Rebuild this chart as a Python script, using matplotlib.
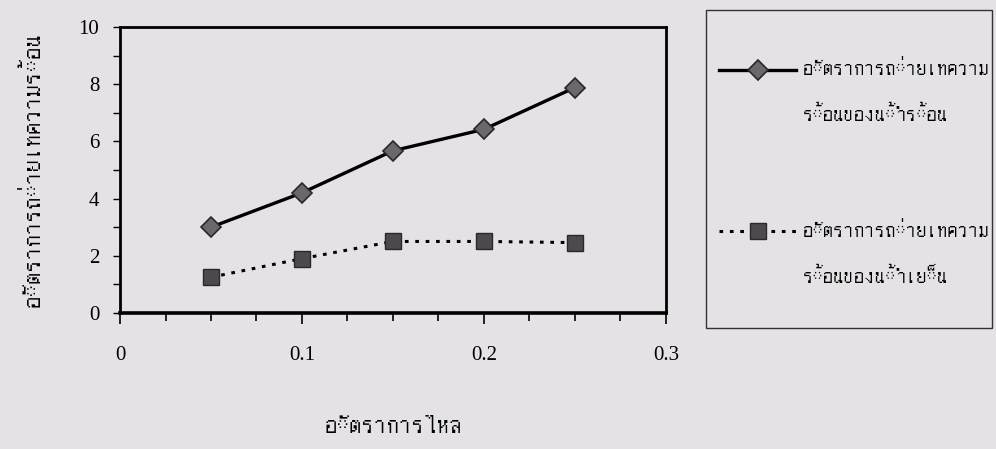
import matplotlib
matplotlib.use("Agg")
import matplotlib.pyplot as plt
from matplotlib import font_manager
from matplotlib.ft2font import FT2Font
from matplotlib.patches import Rectangle

flow_rate = [0.05, 0.10, 0.15, 0.20, 0.25]
hot_water = [3.0, 4.2, 5.67, 6.42, 7.88]
cold_water = [1.25, 1.9, 2.5, 2.5, 2.46]
hot_label = "อัตราการถ่ายเทความ\nร้อนของน้ำร้อน"
cold_label = "อัตราการถ่ายเทความ\nร้อนของน้ำเย็น"
x_title = "อัตราการไหล"
y_title = "อัตราการถ่ายเทความร้อน"
x_ticks = [0, 0.1, 0.2, 0.3]
y_ticks = [0, 2, 4, 6, 8, 10]


def find_thai_font():
    # look for any installed font that has Thai glyphs
    for path in font_manager.findSystemFonts():
        try:
            cmap = FT2Font(path).get_charmap()
        except Exception:
            continue
        if 0x0E2D in cmap and 0x0E31 in cmap:
            return font_manager.FontProperties(fname=path).get_name()
    return None


thai = find_thai_font()
serif = ["Liberation Serif", "DejaVu Serif"]
thai_family = ([thai] if thai else []) + ["DejaVu Sans"]

bg = "#e4e2e5"
fig = plt.figure(figsize=(9.96, 4.49), dpi=100, facecolor=bg)
ax = fig.add_axes([0.1205, 0.303, 0.548, 0.637], facecolor=bg)

# leading blank line keeps the legend handle level with the first text line
ax.plot(flow_rate, hot_water, color="black", lw=2.4, marker="D", ms=10,
        mfc="#6b676c", mec="#2a282b", mew=1.2, label="\n" + hot_label)
ax.plot(flow_rate, cold_water, color="black", lw=2.2, ls=(0, (1.2, 2.2)),
        marker="s", ms=11, mfc="#4c4a4e", mec="#2a282b", mew=1.0,
        label="\n" + cold_label)

ax.set_xlim(0, 0.3)
ax.set_ylim(0, 10)
ax.set_xticks(x_ticks)
ax.set_xticklabels(["0", "0.1", "0.2", "0.3"], family=serif, fontsize=15)
ax.set_xticks([i * 0.025 for i in range(13)], minor=True)
ax.set_yticks(y_ticks)
ax.set_yticklabels([str(v) for v in y_ticks], family=serif, fontsize=15)
ax.set_yticks(range(11), minor=True)
ax.tick_params(axis="x", which="major", length=8, width=1.2, pad=16)
ax.tick_params(axis="x", which="minor", length=6, width=1.2)
ax.tick_params(axis="y", which="both", direction="out", length=5, width=1.0, pad=10)

for side in ["left", "right", "top"]:
    ax.spines[side].set_linewidth(2.0)
ax.spines["bottom"].set_linewidth(2.6)

ax.set_xlabel(x_title, family=thai_family, fontsize=18, labelpad=36)
ax.set_ylabel(y_title, family=thai_family, fontsize=18, labelpad=26)

# legend frame drawn as its own box, entries placed inside it
fig.patches.append(Rectangle((0.709, 0.2695), 0.287, 0.708,
                             transform=fig.transFigure, facecolor=bg,
                             edgecolor="#333333", lw=1.0, zorder=0))
leg = fig.legend(loc="upper left", bbox_to_anchor=(0.722, 0.967),
                 prop={"family": thai_family, "size": 15, "weight": "bold"},
                 handlelength=3.7, handletextpad=0.3, labelspacing=2.5,
                 borderpad=0, borderaxespad=0, frameon=False)
for t in leg.get_texts():
    t.set_linespacing(2.65)

fig.savefig("out.png", dpi=100, facecolor=bg)
